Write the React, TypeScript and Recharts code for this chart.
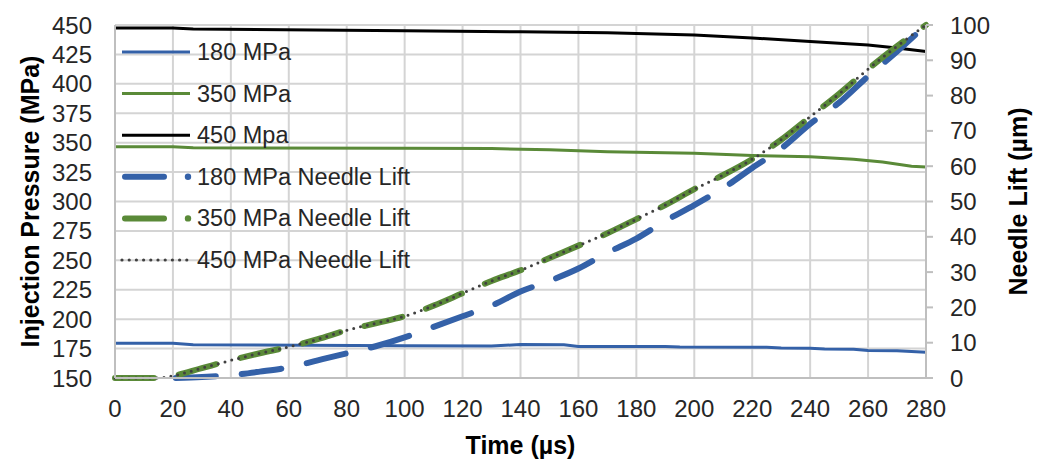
import React from 'react';
import { LineChart, Line, XAxis, YAxis, CartesianGrid, Legend, Label } from 'recharts';

// ---- Data ----
const timeTicks = [0, 20, 40, 60, 80, 100, 120, 140, 160, 180, 200, 220, 240, 260, 280];
const pressureTicks = [150, 175, 200, 225, 250, 275, 300, 325, 350, 375, 400, 425, 450];
const liftTicks = [0, 10, 20, 30, 40, 50, 60, 70, 80, 90, 100];

const p180Time = [0, 20, 27, 100, 130, 140, 155, 160, 190, 195, 225, 230, 240, 245, 255, 260, 270, 280];
const p180Values = [179.5, 179.5, 178.3, 177.5, 177.3, 178.4, 178.2, 176.8, 176.8, 176.3, 176.2, 175.4, 175.2, 174.7, 174.5, 173.3, 173.2, 171.8];

const p350Time = [0, 20, 27, 100, 130, 150, 170, 200, 220, 240, 255, 265, 275, 280];
const p350Values = [346.5, 346.5, 345.6, 345.3, 345.0, 344.0, 342.3, 341.0, 339.0, 338.0, 336.0, 333.5, 330.0, 329.3];

const p450Time = [0, 20, 27, 100, 140, 170, 200, 220, 240, 260, 270, 280];
const p450Values = [447.5, 447.5, 446.5, 445.2, 444.2, 443.4, 441.6, 439.0, 436.0, 433.0, 430.5, 427.5];

const lift180Time = [21, 30, 40, 50, 60, 70, 80, 90, 100, 110, 120, 130, 140, 150, 160, 170, 180, 190, 200, 210, 220, 230, 240, 250, 260, 270, 280];
const lift180Values = [0, 0.3, 0.8, 1.8, 3, 5, 7, 9, 11.5, 14.5, 17.5, 20.5, 24.5, 27.5, 31, 35.5, 39.5, 44.5, 49, 53.8, 59.5, 65, 72, 78, 85.5, 92.5, 100];

const lift350Time = [0, 10, 15, 20, 30, 40, 50, 60, 70, 80, 90, 100, 110, 120, 130, 140, 150, 160, 170, 180, 190, 200, 210, 220, 230, 240, 250, 260, 270, 280];
const lift350Values = [0, 0, 0, 0.6, 2.8, 5, 7, 8.8, 11, 13.5, 15.5, 17.5, 20.5, 24, 27.5, 30.5, 34, 37.5, 41, 45, 49, 53.5, 57.5, 62, 67.5, 74, 80.5, 87.5, 94, 100];

const lift450Time = [0, 10, 15, 20, 30, 40, 50, 60, 70, 80, 90, 100, 110, 120, 130, 140, 150, 160, 170, 180, 190, 200, 210, 220, 230, 240, 250, 260, 270, 280];
const lift450Values = [0, 0, 0, 0.6, 2.8, 5, 7, 8.8, 11, 13.5, 15.5, 17.5, 20.5, 24, 27.5, 30.5, 34, 37.5, 41, 45, 49, 53.5, 57.5, 62, 67.5, 74, 80.5, 87.5, 94, 100];

const legendLabels = ['180 MPa', '350 MPa', '450 Mpa', '180 MPa Needle Lift', '350 MPa Needle Lift', '450 MPa Needle Lift'];

const toRows = (ts: number[], vs: number[]) => ts.map((t, i) => ({ t, v: vs[i] }));

const BLUE = '#3461A8';
const GREEN = '#5A8A38';
const BLACK = '#000000';
const DOTGREY = '#404040';
const GRID = '#D4D4D4';
const AXIS = '#BFBFBF';
const FONT = "'Liberation Sans', Arial, sans-serif";

const LegendContent = () => {
  const x0 = 122;
  const x1 = 190;
  const tx = 197;
  const y0 = 52;
  const dy = 41.6;
  const dots: number[] = [];
  for (let x = x0; x <= 187; x += 7.2) dots.push(x);
  return (
    <svg width={470} height={290} style={{ display: 'block', overflow: 'visible' }}>
      {legendLabels.map((lab, i) => {
        const y = y0 + i * dy;
        let icon: React.ReactNode = null;
        if (i < 3) {
          icon = <line x1={x0} x2={x1} y1={y} y2={y} stroke={[BLUE, GREEN, BLACK][i]} strokeWidth={3} />;
        } else if (i < 5) {
          const c = i === 3 ? BLUE : GREEN;
          icon = (
            <g>
              <line x1={x0 + 3} x2={167 - 3} y1={y} y2={y} stroke={c} strokeWidth={6} strokeLinecap="round" />
              <circle cx={188} cy={y} r={3.2} fill={c} />
            </g>
          );
        } else {
          icon = (
            <g>
              {dots.map((d, k) => (
                <circle key={k} cx={d} cy={y} r={1.6} fill={DOTGREY} />
              ))}
            </g>
          );
        }
        return (
          <g key={lab}>
            {icon}
            <text x={tx} y={y} dominantBaseline="central" fontSize={23.5} fill="#262626" fontFamily={FONT}>
              {lab}
            </text>
          </g>
        );
      })}
    </svg>
  );
};

export default function App() {
  const tickStyle = { fontSize: 24, fill: '#262626', fontFamily: FONT };
  return (
    <div style={{ position: 'absolute', left: 0, top: 0, width: 1043, height: 461, background: '#fff', fontFamily: FONT }}>
      <LineChart width={1043} height={461} margin={{ top: 25, right: 0, bottom: 0, left: 0 }}>
        <CartesianGrid yAxisId="left" stroke={GRID} strokeWidth={2} />
        <XAxis
          type="number"
          dataKey="t"
          domain={[0, 280]}
          ticks={timeTicks}
          interval={0}
          height={83}
          tickLine={false}
          tickSize={6}
          tickMargin={16}
          axisLine={{ stroke: AXIS, strokeWidth: 2 }}
          tick={tickStyle}
          allowDuplicatedCategory={false}
        >
          <Label
            content={(props: any) => {
              const vb = props.viewBox || { x: 115, y: 378, width: 811, height: 83 };
              return (
                <text x={vb.x + vb.width / 2} y={vb.y + 67} textAnchor="middle" dominantBaseline="central" fontSize={25} fontWeight="bold" fill="#000" fontFamily={FONT}>
                  Time (µs)
                </text>
              );
            }}
          />
        </XAxis>
        <YAxis
          yAxisId="left"
          orientation="left"
          type="number"
          domain={[150, 450]}
          ticks={pressureTicks}
          interval={0}
          width={115}
          tickLine={false}
          tickSize={6}
          tickMargin={17}
          axisLine={{ stroke: AXIS, strokeWidth: 2 }}
          tick={tickStyle}
        >
          <Label
            content={(props: any) => {
              const vb = props.viewBox || { x: 0, y: 25, width: 115, height: 353 };
              const cx = vb.x + 30;
              const cy = vb.y + vb.height / 2;
              return (
                <text x={cx} y={cy} transform={`rotate(-90, ${cx}, ${cy})`} textAnchor="middle" dominantBaseline="central" fontSize={25} fontWeight="bold" fill="#000" fontFamily={FONT}>
                  Injection Pressure (MPa)
                </text>
              );
            }}
          />
        </YAxis>
        <YAxis
          yAxisId="right"
          orientation="right"
          type="number"
          domain={[0, 100]}
          ticks={liftTicks}
          interval={0}
          width={117}
          tickLine={{ stroke: AXIS, strokeWidth: 2 }}
          tickSize={7}
          tickMargin={17}
          axisLine={{ stroke: AXIS, strokeWidth: 2 }}
          tick={tickStyle}
        >
          <Label
            content={(props: any) => {
              const vb = props.viewBox || { x: 926, y: 25, width: 117, height: 353 };
              const cx = vb.x + 92;
              const cy = vb.y + vb.height / 2;
              return (
                <text x={cx} y={cy} transform={`rotate(-90, ${cx}, ${cy})`} textAnchor="middle" dominantBaseline="central" fontSize={25} fontWeight="bold" fill="#000" fontFamily={FONT}>
                  Needle Lift (µm)
                </text>
              );
            }}
          />
        </YAxis>
        <Legend
          content={LegendContent}
          layout="horizontal"
          verticalAlign="middle"
          align="center"
          wrapperStyle={{ position: 'absolute', left: 0, top: 0, width: 470, height: 290, margin: 0, padding: 0 }}
        />
        <Line yAxisId="left" data={toRows(p180Time, p180Values)} dataKey="v" type="linear" stroke={BLUE} strokeWidth={3} dot={false} activeDot={false} isAnimationActive={false} name="180 MPa" />
        <Line yAxisId="left" data={toRows(p350Time, p350Values)} dataKey="v" type="linear" stroke={GREEN} strokeWidth={3} dot={false} activeDot={false} isAnimationActive={false} name="350 MPa" />
        <Line yAxisId="left" data={toRows(p450Time, p450Values)} dataKey="v" type="linear" stroke={BLACK} strokeWidth={3} dot={false} activeDot={false} isAnimationActive={false} name="450 Mpa" />
        <Line yAxisId="right" data={toRows(lift180Time, lift180Values)} dataKey="v" type="monotone" stroke={BLUE} strokeWidth={6} strokeDasharray="40 26" strokeLinecap="round" dot={false} activeDot={false} isAnimationActive={false} name="180 MPa Needle Lift" />
        <Line yAxisId="right" data={toRows(lift350Time, lift350Values)} dataKey="v" type="monotone" stroke={GREEN} strokeWidth={6} strokeDasharray="39 25" strokeLinecap="round" dot={false} activeDot={false} isAnimationActive={false} name="350 MPa Needle Lift" />
        <Line yAxisId="right" data={toRows(lift450Time, lift450Values)} dataKey="v" type="monotone" stroke={DOTGREY} strokeWidth={3} strokeDasharray="0 7" strokeLinecap="round" dot={false} activeDot={false} isAnimationActive={false} name="450 MPa Needle Lift" />
      </LineChart>
    </div>
  );
}
